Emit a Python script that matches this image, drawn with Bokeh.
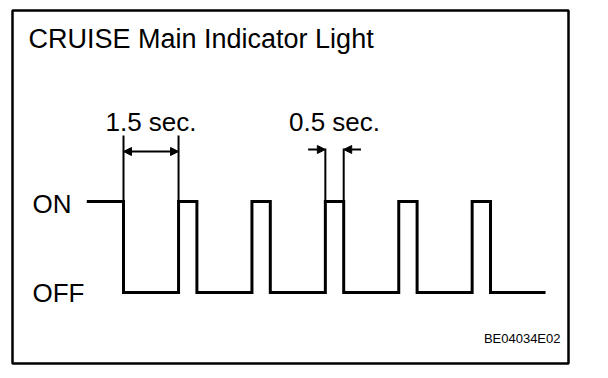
from bokeh.plotting import figure
from bokeh.models import Arrow, NormalHead, ColumnDataSource
from bokeh.core.properties import value
from bokeh.embed import file_html
from bokeh.resources import INLINE

# ---- data ----
TITLE = "CRUISE Main Indicator Light"
LEVEL_LABELS = ["ON", "OFF"]
LEVEL_VALUES = [1, 0]
# signal transitions (seconds) and state held after each time (1 = ON, 0 = OFF)
times = [-1.0, 0.0, 1.5, 2.0, 3.5, 4.0, 5.5, 6.0, 7.5, 8.0, 9.5, 10.0, 11.5]
states = [1, 0, 1, 0, 1, 0, 1, 0, 1, 0, 1, 0, 0]
# dimension annotations: (start, end, label)
dim_starts = [0.0, 5.5]
dim_ends = [1.5, 6.0]
dim_labels = ["1.5 sec.", "0.5 sec."]
CODE = "BE04034E02"

# ---- layout (pixel anchors of the picture) ----
W, H = 608, 378
BOX_L, BOX_T, BOX_R, BOX_B = 12, 10, 568, 363
X0_PX, PX_PER_S = 123.0, 36.7
Y_ON_PX, Y_OFF_PX = 201.0, 292.0
UNIT = Y_OFF_PX - Y_ON_PX
TXT_SHIFT = 9.5  # renderer baseline offset correction


def t_of(px):
    return (px - X0_PX) / PX_PER_S


def v_of(py):
    return (Y_OFF_PX - py) / UNIT


def tv_of(py):
    return v_of(py - TXT_SHIFT)


FONT = "Liberation Sans"

p = figure(width=W, height=H, output_backend="svg", toolbar_location=None,
           x_range=(t_of(BOX_L), t_of(BOX_R)), y_range=(v_of(BOX_B), v_of(BOX_T)),
           min_border_left=BOX_L, min_border_top=BOX_T,
           min_border_right=W - BOX_R, min_border_bottom=H - BOX_B)
p.axis.visible = False
p.grid.visible = False
p.background_fill_color = "white"
p.border_fill_color = "white"
p.outline_line_color = "black"
p.outline_line_width = 2.5

# waveform
p.step(times, states, mode="after", line_color="black", line_width=3,
       line_join="miter")

# extension lines for dimensions
ext_tops = [v_of(135), v_of(148)]
ex_x, ex_y0, ex_y1 = [], [], []
for s, e, top in zip(dim_starts, dim_ends, ext_tops):
    for t in (s, e):
        ex_x.append(t)
        ex_y0.append(1)
        ex_y1.append(top)
p.segment(x0=ex_x, y0=ex_y0, x1=ex_x, y1=ex_y1, line_color="black", line_width=2)

# dimension arrows
d1y = v_of(151)
p.add_layout(Arrow(x_start=dim_starts[0], x_end=dim_ends[0], y_start=d1y, y_end=d1y,
                   start=NormalHead(size=8, fill_color="black", line_color="black"),
                   end=NormalHead(size=8, fill_color="black", line_color="black"),
                   line_width=2, line_color="black"))
d2y = v_of(149)
out_len = 0.47
p.add_layout(Arrow(x_start=dim_starts[1] - out_len, x_end=dim_starts[1], y_start=d2y, y_end=d2y,
                   end=NormalHead(size=8, fill_color="black", line_color="black"),
                   line_width=2, line_color="black"))
p.add_layout(Arrow(x_start=dim_ends[1] + out_len, x_end=dim_ends[1], y_start=d2y, y_end=d2y,
                   end=NormalHead(size=8, fill_color="black", line_color="black"),
                   line_width=2, line_color="black"))

# dimension labels
dim_src = ColumnDataSource(dict(x=[(s + e) / 2 for s, e in zip(dim_starts, dim_ends)],
                                y=[tv_of(130.5)] * len(dim_labels), text=dim_labels))
p.text(x="x", y="y", text="text", source=dim_src, text_align="center",
       text_baseline="alphabetic", text_font=value(FONT), text_font_size="26px",
       text_color="black")

# level labels
lvl_src = ColumnDataSource(dict(x=[t_of(32)] * 2,
                                y=[tv_of(213), tv_of(302)],
                                text=LEVEL_LABELS))
p.text(x="x", y="y", text="text", source=lvl_src, text_align="left",
       text_baseline="alphabetic", text_font=value(FONT), text_font_size="26px",
       text_color="black")

# title
p.text(x=[t_of(28)], y=[tv_of(47.5)], text=[TITLE], text_align="left",
       text_baseline="alphabetic", text_font=value(FONT), text_font_size="27px",
       text_color="black")

# code
p.text(x=[t_of(560)], y=[tv_of(347)], text=[CODE], text_align="right",
       text_baseline="alphabetic", text_font=value(FONT), text_font_size="13px",
       text_color="black")

open("out.html", "w").write(file_html(p, INLINE))
